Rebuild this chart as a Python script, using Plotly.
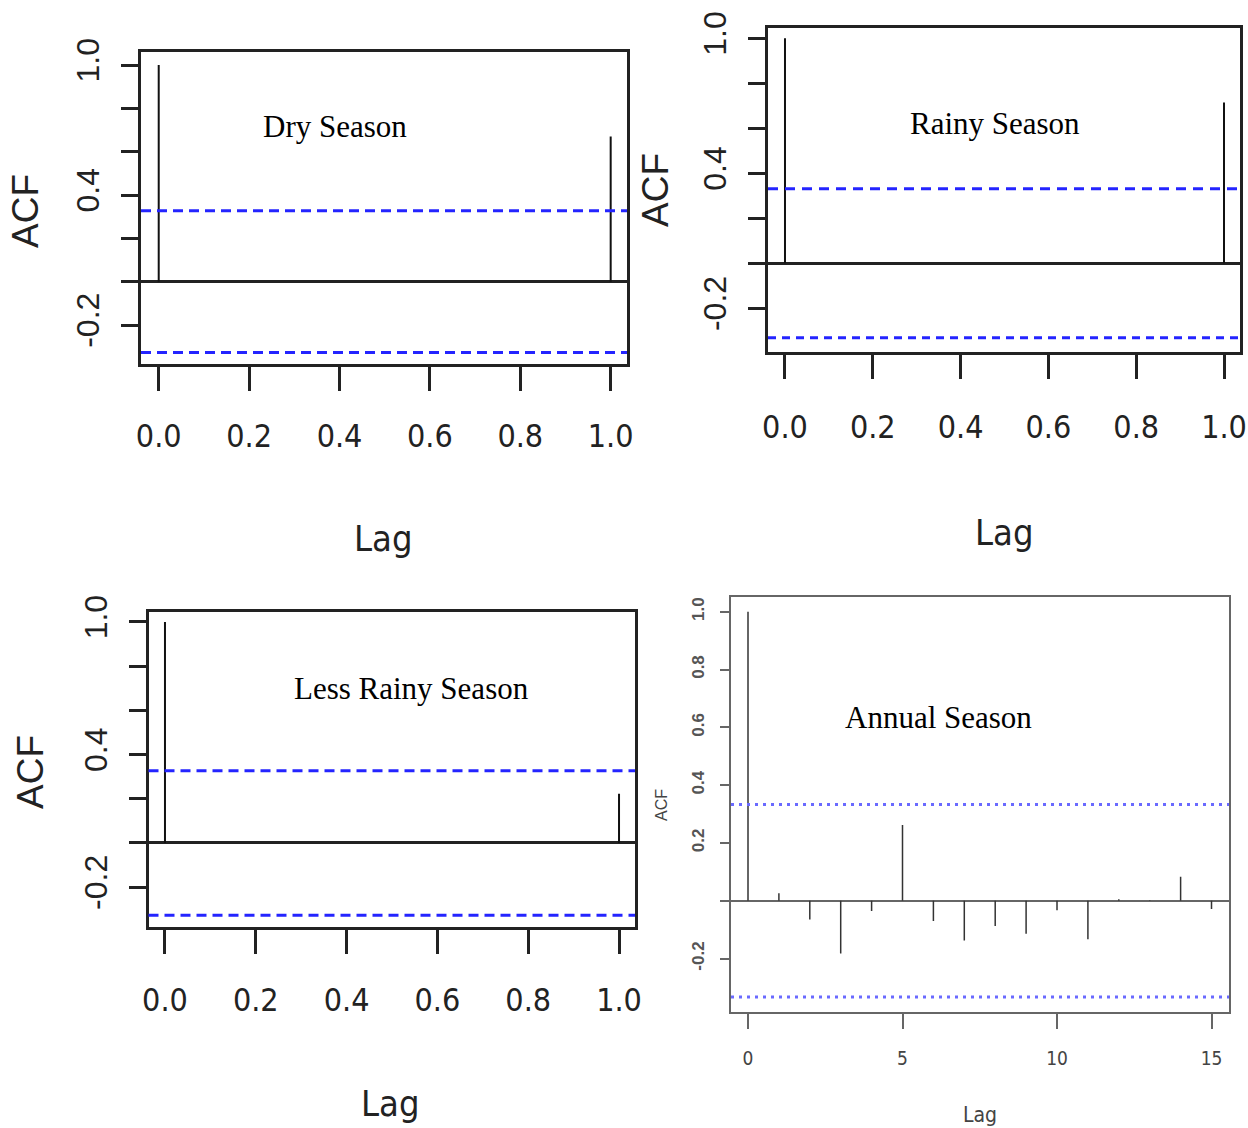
import plotly.graph_objects as go

W, H = 1248, 1128

# ---- autocorrelation values -------------------------------------------
dry_lags = [0, 1]
dry_acf = [1.0, 0.67]

rainy_lags = [0, 1]
rainy_acf = [1.0, 0.715]

less_rainy_lags = [0, 1]
less_rainy_acf = [1.0, 0.223]

annual_lags = list(range(16))
annual_acf = [1.0, 0.026, -0.065, -0.182, -0.035, 0.262, -0.070, -0.137,
              -0.087, -0.114, -0.033, -0.133, 0.005, 0.002, 0.083, -0.028]

# 95% confidence bounds (+/-)
dry_ci = 0.327
rainy_ci = 0.331
less_rainy_ci = 0.327
annual_ci = 0.333

season_titles = ["Dry Season", "Rainy Season", "Less Rainy Season", "Annual Season"]

# ---- tick labels ---------------------------------------------------------
frac_lag_ticks = [0.0, 0.2, 0.4, 0.6, 0.8, 1.0]
frac_lag_labels = ["0.0", "0.2", "0.4", "0.6", "0.8", "1.0"]
acf_ticks = [-0.2, 0.0, 0.2, 0.4, 0.6, 0.8, 1.0]
acf_labels_sparse = ["-0.2", "", "", "0.4", "", "", "1.0"]
annual_lag_ticks = [0, 5, 10, 15]
annual_lag_labels = ["0", "5", "10", "15"]
annual_acf_labels = ["-0.2", "", "0.2", "0.4", "0.6", "0.8", "1.0"]

SANS = "Liberation Sans, Arial, Helvetica, sans-serif"
NARROW = "DejaVu Sans Condensed, Liberation Sans Narrow, Arial Narrow, sans-serif"
SERIF = "Liberation Serif, Times New Roman, serif"


def px(x):
    return x / W


def py(y):
    return 1 - y / H


big_style = dict(
    frame="#222222", frame_w=3, spike="#111111", spike_w=2,
    blue="#2424ff", blue_w=3,
    xtick_len=24, ytick_len=17, tick_w=2.5,
    xfont=dict(family=NARROW, size=32, color="#222222"),
    yfont=dict(family=SANS, size=32, color="#222222"),
    ystand=9,
)
small_style = dict(
    frame="#666666", frame_w=2, spike="#333333", spike_w=1.5,
    blue="#6a6aff", blue_w=3,
    xtick_len=15, ytick_len=9, tick_w=1.5,
    xfont=dict(family=NARROW, size=19, color="#444444"),
    yfont=dict(family=SANS, size=17, color="#555555", weight="bold"),
    ystand=9,
)

# box in pixels (left, top, right, bottom), axis ranges, tick setup
panels = [
    dict(lags=dry_lags, acf=dry_acf, ci=dry_ci, title=season_titles[0],
         box=(141, 52, 627, 363.5), xr=[-0.0392, 1.0361], yr=[-0.3775, 1.060],
         xt=(frac_lag_ticks, frac_lag_labels), yt=(acf_ticks, acf_labels_sparse),
         st=big_style, dash=("10px,6px", "10px,6px"), xstand=18,
         title_xy=(335, 127), acf_xy=(25, 211), lag_xy=(383, 538),
         acf_size=37, lag_size=36),
    dict(lags=rainy_lags, acf=rainy_acf, ci=rainy_ci, title=season_titles[1],
         box=(768, 27.5, 1239.5, 351.5), xr=[-0.0387, 1.0353], yr=[-0.392, 1.048],
         xt=(frac_lag_ticks, frac_lag_labels), yt=(acf_ticks, acf_labels_sparse),
         st=big_style, dash=("10px,7px", "8px,6px"), xstand=21,
         title_xy=(995, 124), acf_xy=(655, 190), lag_xy=(1004, 532),
         acf_size=37, lag_size=36),
    dict(lags=less_rainy_lags, acf=less_rainy_acf, ci=less_rainy_ci, title=season_titles[2],
         box=(148.5, 611.5, 635, 926.5), xr=[-0.0363, 1.0352], yr=[-0.378, 1.047],
         xt=(frac_lag_ticks, frac_lag_labels), yt=(acf_ticks, acf_labels_sparse),
         st=big_style, dash=("10px,6px", "10px,6px"), xstand=19,
         title_xy=(411, 688), acf_xy=(30, 772), lag_xy=(390, 1103),
         acf_size=37, lag_size=36),
    dict(lags=annual_lags, acf=annual_acf, ci=annual_ci, title=season_titles[3],
         box=(731, 597, 1229, 1011.5), xr=[-0.55, 15.566], yr=[-0.383, 1.051],
         xt=(annual_lag_ticks, annual_lag_labels), yt=(acf_ticks, annual_acf_labels),
         st=small_style, dash=("3px,5px", "3px,5px"), xstand=14,
         title_xy=(938, 718), acf_xy=(661, 805), lag_xy=(980, 1115),
         acf_size=16, lag_size=21),
]

fig = go.Figure()
layout = dict(
    width=W, height=H, margin=dict(l=0, r=0, t=0, b=0, autoexpand=False),
    paper_bgcolor="white", plot_bgcolor="white", showlegend=False,
)
shapes, annotations = [], []

for i, p in enumerate(panels):
    n = "" if i == 0 else str(i + 1)
    st = p["st"]
    l, t, r, b = p["box"]

    # vertical spikes from zero up/down to each autocorrelation value
    xs, ys = [], []
    for lag, v in zip(p["lags"], p["acf"]):
        xs += [lag, lag, None]
        ys += [0, v, None]
    fig.add_trace(go.Scatter(
        x=xs, y=ys, mode="lines", xaxis="x" + n, yaxis="y" + n,
        line=dict(color=st["spike"], width=st["spike_w"]),
        hoverinfo="skip", showlegend=False,
    ))

    layout["xaxis" + n] = dict(
        domain=[px(l), px(r)], range=p["xr"], anchor="y" + n, automargin=False,
        showgrid=False, zeroline=False,
        showline=True, mirror=True, linecolor=st["frame"], linewidth=st["frame_w"],
        ticks="outside", ticklen=st["xtick_len"], tickwidth=st["tick_w"], tickcolor=st["frame"],
        tickmode="array", tickvals=p["xt"][0], ticktext=p["xt"][1],
        tickfont=st["xfont"], ticklabelstandoff=p["xstand"], ticklabeloverflow="allow",
    )
    layout["yaxis" + n] = dict(
        domain=[py(b), py(t)], range=p["yr"], anchor="x" + n, automargin=False,
        showgrid=False,
        zeroline=True, zerolinecolor=st["frame"], zerolinewidth=st["frame_w"],
        showline=True, mirror=True, linecolor=st["frame"], linewidth=st["frame_w"],
        ticks="outside", ticklen=st["ytick_len"], tickwidth=st["tick_w"], tickcolor=st["frame"],
        tickmode="array", tickvals=p["yt"][0], ticktext=p["yt"][1],
        tickangle=-90, tickfont=st["yfont"], ticklabelstandoff=st["ystand"],
        ticklabeloverflow="allow",
    )

    # confidence bounds
    for sign, dash in zip((1, -1), p["dash"]):
        shapes.append(dict(
            type="line", xref="x" + n + " domain", x0=0, x1=1,
            yref="y" + n, y0=sign * p["ci"], y1=sign * p["ci"],
            line=dict(color=st["blue"], width=st["blue_w"], dash=dash),
        ))

    tx, ty = p["title_xy"]
    annotations.append(dict(
        text=p["title"], xref="paper", yref="paper", x=px(tx), y=py(ty),
        xanchor="center", yanchor="middle", showarrow=False,
        font=dict(family=SERIF, size=31, color="#000000"),
    ))
    ax_, ay_ = p["acf_xy"]
    annotations.append(dict(
        text="ACF", xref="paper", yref="paper", x=px(ax_), y=py(ay_),
        xanchor="center", yanchor="middle", showarrow=False, textangle=-90,
        font=dict(family=SANS, size=p["acf_size"], color=st["xfont"]["color"]),
    ))
    lx, ly = p["lag_xy"]
    annotations.append(dict(
        text="Lag", xref="paper", yref="paper", x=px(lx), y=py(ly),
        xanchor="center", yanchor="middle", showarrow=False,
        font=dict(family=NARROW, size=p["lag_size"], color=st["xfont"]["color"]),
    ))

layout["shapes"] = shapes
layout["annotations"] = annotations
fig.update_layout(**layout)

fig.write_html("out.html")
